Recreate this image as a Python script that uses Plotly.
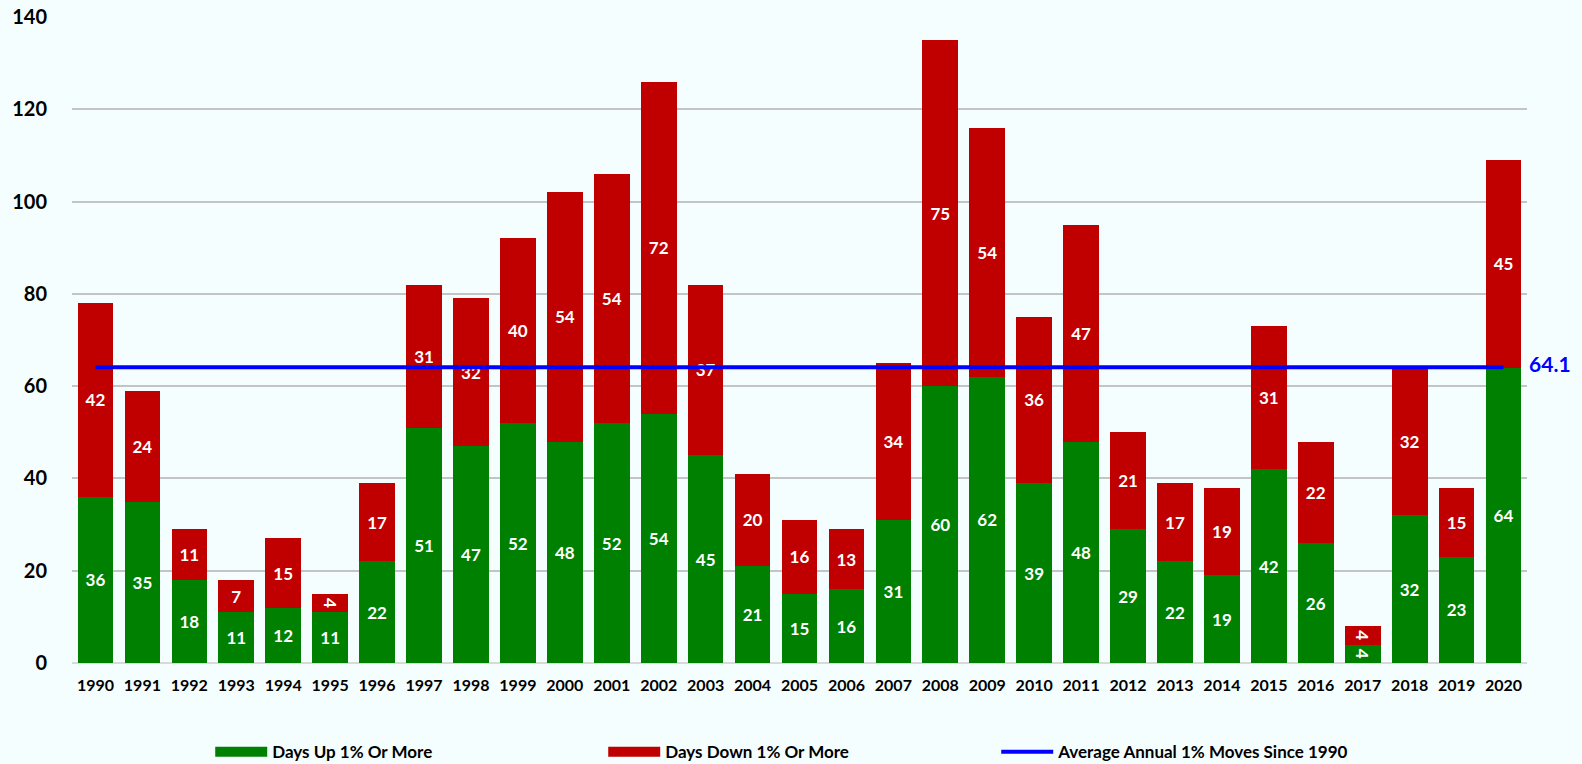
import plotly.graph_objects as go

years = [str(y) for y in range(1990, 2021)]
days_up = [36, 35, 18, 11, 12, 11, 22, 51, 47, 52, 48, 52, 54, 45, 21, 15, 16, 31, 60, 62,
           39, 48, 29, 22, 19, 42, 26, 4, 32, 23, 64]
days_down = [42, 24, 11, 7, 15, 4, 17, 31, 32, 40, 54, 54, 72, 37, 20, 16, 13, 34, 75, 54,
             36, 47, 21, 17, 19, 31, 22, 4, 32, 15, 45]
avg_value = 64.1
avg_label = "64.1"

FONT = "Lato, 'Liberation Sans Narrow', Arial, sans-serif"
BG = "#F5FEFE"
GREEN = "#008000"
RED = "#C00000"
BLUE = "#0000FF"

fig = go.Figure()
fig.add_trace(go.Bar(
    x=years, y=days_up, name="Days Up 1% Or More", showlegend=False, legendgroup="up",
    marker=dict(color=GREEN, line=dict(width=0)),
    text=[str(v) for v in days_up], textposition="inside", insidetextanchor="middle",
    textfont=dict(color="white", size=17, family=FONT, weight="bold"),
    constraintext="none", cliponaxis=False,
))
fig.add_trace(go.Bar(
    x=years, y=days_down, name="Days Down 1% Or More", showlegend=False, legendgroup="down",
    marker=dict(color=RED, line=dict(width=0)),
    text=[str(v) for v in days_down], textposition="inside", insidetextanchor="middle",
    textfont=dict(color="white", size=17, family=FONT, weight="bold"),
    constraintext="none", cliponaxis=False,
))
fig.add_trace(go.Scatter(
    x=[years[0], years[-1]], y=[avg_value, avg_value], name="Average Annual 1% Moves Since 1990",
    mode="lines+text", line=dict(color=BLUE, width=4), showlegend=False, legendgroup="avg",
    text=["", "\u00a0" * 5 + avg_label], textposition="middle right",
    textfont=dict(color=BLUE, size=21, family=FONT, weight="bold"),
    cliponaxis=False,
))
# legend entries (wide swatches like the reference)
fig.add_trace(go.Scatter(x=[None], y=[None], mode="lines", name="Days Up 1% Or More",
                         line=dict(color=GREEN, width=15), legendgroup="up"))
fig.add_trace(go.Scatter(x=[None], y=[None], mode="lines", name="Days Down 1% Or More",
                         line=dict(color=RED, width=15), legendgroup="down"))
fig.add_trace(go.Scatter(x=[None], y=[None], mode="lines", name="Average Annual 1% Moves Since 1990",
                         line=dict(color=BLUE, width=4), legendgroup="avg"))

fig.update_layout(
    barmode="stack", bargap=0.24,
    width=1582, height=764,
    paper_bgcolor=BG, plot_bgcolor=BG,
    margin=dict(l=72, r=55, t=17, b=101, autoexpand=False),
    font=dict(family=FONT, color="black"),
    uniformtext=dict(minsize=17, mode="show"),
    legend=dict(orientation="h", x=0.095, xanchor="left", y=-0.138, yanchor="middle",
                font=dict(size=17, family=FONT, weight="bold"),
                entrywidth=326, entrywidthmode="pixels", bgcolor="rgba(0,0,0,0)",
                traceorder="normal", itemwidth=52),
    showlegend=True,
)
fig.update_xaxes(type="category", range=[-0.5, len(years) - 0.5], showgrid=False, showline=False,
                 ticks="outside", ticklen=8, tickcolor="rgba(0,0,0,0)",
                 tickfont=dict(size=16, family=FONT, weight="bold", color="black"),
                 automargin=False)
fig.update_yaxes(range=[0, 140], dtick=20, showgrid=True, gridcolor="#C4C4C4", gridwidth=2,
                 zeroline=True, zerolinecolor="#D9D9D9", zerolinewidth=2,
                 tickfont=dict(size=20, family=FONT, weight="bold", color="black"),
                 ticks="outside", ticklen=20, tickcolor="rgba(0,0,0,0)", automargin=False)

fig.write_html("out.html", config={"displayModeBar": False},
               post_script="document.body.style.margin='0';")
